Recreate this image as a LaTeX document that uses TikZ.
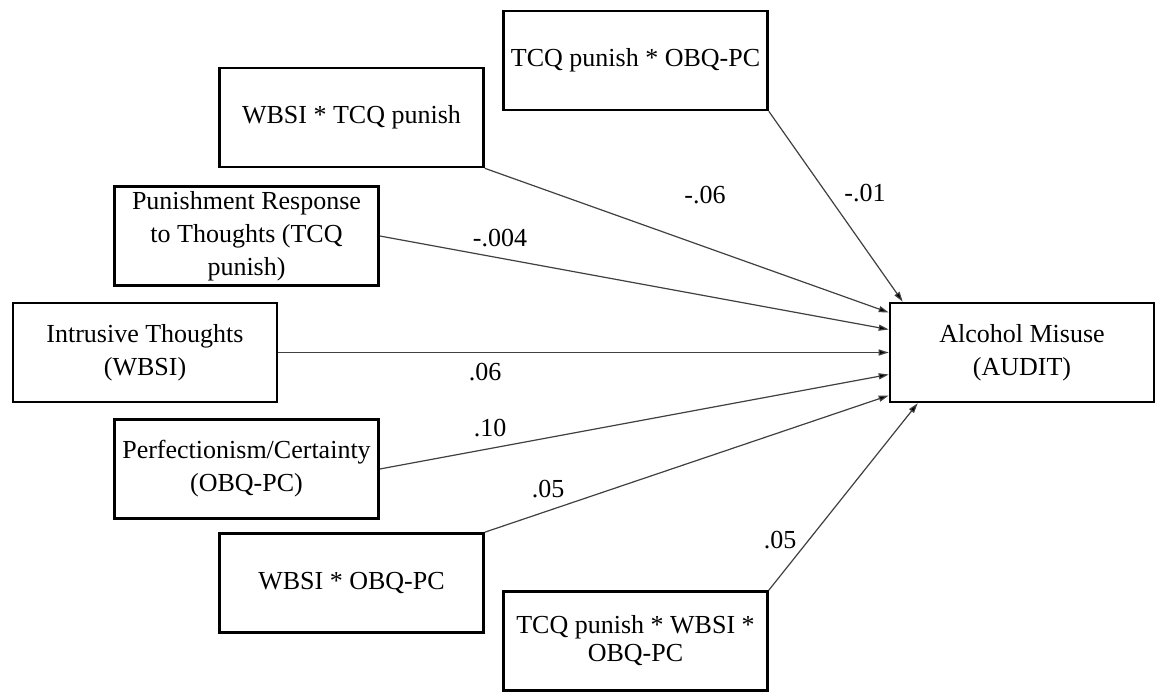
\documentclass[tikz,border=0pt]{standalone}
\usepackage{fontspec}
\setmainfont{Liberation Serif}
\usetikzlibrary{arrows.meta,calc}
\begin{document}
\begin{tikzpicture}[x=1pt,y=-1pt,
  box/.style={draw,line width=2.6pt,minimum width=264pt,minimum height=99pt,
    inner sep=0pt,align=center,font=\fontsize{26}{33}\selectfont},
  effect/.style={draw=black!75,line width=1.2pt,-{Triangle[length=10pt,width=6pt,fill=black]}},
  coef/.style={font=\fontsize{26}{31}\selectfont,inner sep=0pt}]
\useasboundingbox (0,0) rectangle (1155,692);
\fill[white] (0,0) rectangle (1155,692);

% predictor and interaction boxes
\node[box] (t1) at (635.5,60.5) {TCQ punish * OBQ-PC};
\node[box] (t2) at (351.5,117.5) {WBSI * TCQ punish};
\node[box] (t3) at (246.5,236) {Punishment Response\\to Thoughts (TCQ\\punish)};
\node[box] (t4) at (145,352.5) {Intrusive Thoughts\\(WBSI)};
\node[box] (t5) at (246.5,469) {Perfectionism/Certainty\\(OBQ-PC)};
\node[box] (t6) at (351.5,583) {WBSI * OBQ-PC};
\node[box,font=\fontsize{26}{28}\selectfont] (t7) at (635.5,641) {TCQ punish * WBSI *\\OBQ-PC};

% outcome
\node[box] (audit) at (1022,352.5) {Alcohol Misuse\\(AUDIT)};

% paths
\draw[effect] (t1.south east) -- ($(audit.north west)+(14,0)$);
\draw[effect] (t2.south east) -- ($(audit.west)+(0,-40)$);
\draw[effect] (t3.east) -- ($(audit.west)+(0,-23)$);
\draw[effect] (t4.east) -- (audit.west);
\draw[effect] (t5.east) -- ($(audit.west)+(0,22)$);
\draw[effect] (t6.north east) -- ($(audit.west)+(0,43)$);
\draw[effect] (t7.north east) -- ($(audit.south west)+(29,0)$);

% path coefficients
\node[coef] (c1) at (865,193) {-.01};
\node[coef] (c2) at (705,195) {-.06};
\node[coef] (c3) at (500,238) {-.004};
\node[coef] (c4) at (485,372) {.06};
\node[coef] (c5) at (490,428) {.10};
\node[coef] (c6) at (548,489) {.05};
\node[coef] (c7) at (780,540) {.05};
\end{tikzpicture}
\end{document}
